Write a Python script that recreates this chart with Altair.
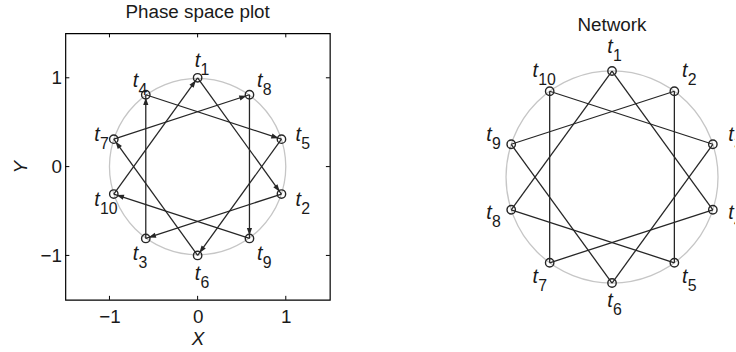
import math
import altair as alt
import pandas as pd

# ---- data -------------------------------------------------------------
# state index shown as the subscript of each label t_k
state_ids = ["1", "2", "3", "4", "5", "6", "7", "8", "9", "10"]

# positions of the states t1..t10 in the phase plane (X, Y)
phase_x = [0.0, 0.951, -0.588, -0.588, 0.951, 0.0, -0.951, 0.588, 0.588, -0.951]
phase_y = [1.0, -0.309, -0.809, 0.809, 0.309, -1.0, 0.309, 0.809, -0.809, -0.309]

# positions of the same states laid out as a ring network
net_x = [0.0, 0.588, 0.951, 0.951, 0.588, 0.0, -0.588, -0.951, -0.951, -0.588]
net_y = [1.0, 0.809, 0.309, -0.309, -0.809, -1.0, -0.809, -0.309, 0.309, 0.809]

# links of the network (state numbers)
net_edges = [(1, 4), (4, 7), (7, 10), (10, 3), (3, 6), (6, 9), (9, 2), (2, 5), (5, 8), (8, 1)]

# trajectory order in the phase plot (closes back on t1)
trajectory = [1, 2, 3, 4, 5, 6, 7, 8, 9, 10, 1]

axis_ticks = [-1, 0, 1]

# ---- layout constants ---------------------------------------------------
FONT = "Liberation Sans"
INK = "#1a1a1a"
LINE = "#262626"
W1, H1 = 267, 269            # phase plot area
LIM = 1.5
NET_UNIT = 107               # pixels per unit in the network panel
NET_X = [-1.4, 1.16]
NET_Y = [-1.355, 1.355]
W2 = round((NET_X[1] - NET_X[0]) * NET_UNIT)
H2 = round((NET_Y[1] - NET_Y[0]) * NET_UNIT)
LABEL_R = 1.2                # labels sit just outside the ring
ARROW = "M0,-1L0.7,1L-0.7,1Z"
FIG_SPACE = "\u2007"


def nodes_frame(xs, ys):
    return pd.DataFrame({"x": xs, "y": ys, "k": state_ids,
                         "lx": [LABEL_R * v for v in xs],
                         "ly": [LABEL_R * v for v in ys]})


# ---- phase space panel ------------------------------------------------
sx = alt.Scale(domain=[-LIM, LIM], nice=False, zero=False)
sy = alt.Scale(domain=[-LIM, LIM], nice=False, zero=False)
common_axis = dict(values=axis_ticks, grid=False, domain=False, ticks=False, tickSize=0,
                   labelFontSize=19, titleFontSize=19, titleFontStyle="italic",
                   titleFontWeight="normal", labelColor=INK, titleColor=INK,
                   labelFont=FONT, titleFont=FONT)
# negative tick labels are centred on their digits, the minus hanging to the left
ax_x = alt.Axis(title="X", labelPadding=8, titlePadding=3,
                labelExpr=f"datum.value < 0 ? datum.label + '{FIG_SPACE}' : datum.label",
                **common_axis)
ax_y = alt.Axis(title="Y", labelPadding=4, titlePadding=10, **common_axis)


def X(field="x"):
    return alt.X(f"{field}:Q", scale=sx, axis=ax_x)


def Y(field="y"):
    return alt.Y(f"{field}:Q", scale=sy, axis=ax_y)


phase_nodes = nodes_frame(phase_x, phase_y)

seg = []
for a, b in zip(trajectory[:-1], trajectory[1:]):
    x0, y0 = phase_x[a - 1], phase_y[a - 1]
    x1, y1 = phase_x[b - 1], phase_y[b - 1]
    dx, dy = x1 - x0, y1 - y0
    d = math.hypot(dx, dy)
    back = 0.075
    seg.append({"x": x0, "y": y0, "x2": x1, "y2": y1,
                "ax": x1 - dx / d * back, "ay": y1 - dy / d * back,
                "ang": math.degrees(math.atan2(dx, dy)) % 360})
phase_seg = pd.DataFrame(seg)

# inward tick marks on all four sides of the box
tk = 0.045
tick_rows = []
for v in axis_ticks:
    tick_rows += [
        {"x": v, "y": -LIM, "x2": v, "y2": -LIM + tk},
        {"x": v, "y": LIM, "x2": v, "y2": LIM - tk},
        {"x": -LIM, "y": v, "x2": -LIM + tk, "y2": v},
        {"x": LIM, "y": v, "x2": LIM - tk, "y2": v},
    ]
ticks_df = pd.DataFrame(tick_rows)

r1 = W1 / (2 * LIM)
ring1 = alt.Chart(pd.DataFrame({"x": [0.0], "y": [0.0]})).mark_point(
    shape="circle", size=(2 * r1) ** 2, filled=False, stroke="#c6c6c6",
    strokeWidth=1.3, opacity=1
).encode(x=X(), y=Y())

tick_marks = alt.Chart(ticks_df).mark_rule(color="#000", strokeWidth=1).encode(
    x=X(), y=Y(), x2="x2:Q", y2="y2:Q")

edges1 = alt.Chart(phase_seg).mark_rule(color=LINE, strokeWidth=1.3).encode(
    x=X(), y=Y(), x2="x2:Q", y2="y2:Q")

heads = alt.Chart(phase_seg).mark_point(
    shape=ARROW, size=56, filled=True, color=LINE, opacity=1
).encode(x=X("ax"), y=Y("ay"), angle=alt.Angle("ang:Q", scale=None))

dots1 = alt.Chart(phase_nodes).mark_point(
    shape="circle", size=72, filled=False, stroke=LINE, strokeWidth=1.4, opacity=1
).encode(x=X(), y=Y())

t1 = alt.Chart(phase_nodes).mark_text(
    text="t", font=FONT, fontSize=20, fontStyle="italic", color=INK,
    align="center", baseline="middle", dx=0, dy=1
).encode(x=X("lx"), y=Y("ly"))

sub1 = alt.Chart(phase_nodes).mark_text(
    font=FONT, fontSize=16, color=INK, align="left", baseline="middle", dx=3, dy=10
).encode(x=X("lx"), y=Y("ly"), text="k:N")

phase = alt.layer(ring1, tick_marks, edges1, heads, dots1, t1, sub1).properties(
    width=W1, height=H1,
    title=alt.TitleParams("Phase space plot", fontSize=19, fontWeight="normal",
                          font=FONT, color=INK, baseline="alphabetic", offset=-4.2),
    view=alt.ViewBackground(stroke="#000", strokeWidth=1.2),
)

# ---- network panel ----------------------------------------------------
nx = alt.Scale(domain=NET_X, nice=False, zero=False)
ny = alt.Scale(domain=NET_Y, nice=False, zero=False)


def NX(field="x"):
    return alt.X(f"{field}:Q", scale=nx, axis=None)


def NY(field="y"):
    return alt.Y(f"{field}:Q", scale=ny, axis=None)


net_nodes = nodes_frame(net_x, net_y)
net_seg = pd.DataFrame([
    {"x": net_x[a - 1], "y": net_y[a - 1], "x2": net_x[b - 1], "y2": net_y[b - 1]}
    for a, b in net_edges
])

ring2 = alt.Chart(pd.DataFrame({"x": [0.0], "y": [0.0]})).mark_point(
    shape="circle", size=(2 * NET_UNIT) ** 2, filled=False, stroke="#c6c6c6",
    strokeWidth=1.3, opacity=1
).encode(x=NX(), y=NY())

edges2 = alt.Chart(net_seg).mark_rule(color=LINE, strokeWidth=1.3).encode(
    x=NX(), y=NY(), x2="x2:Q", y2="y2:Q")

dots2 = alt.Chart(net_nodes).mark_point(
    shape="circle", size=72, filled=False, stroke=LINE, strokeWidth=1.4, opacity=1
).encode(x=NX(), y=NY())

t2 = alt.Chart(net_nodes).mark_text(
    text="t", font=FONT, fontSize=20, fontStyle="italic", color=INK,
    align="center", baseline="middle", dx=-2, dy=-3, clip=True
).encode(x=NX("lx"), y=NY("ly"))

sub2 = alt.Chart(net_nodes).mark_text(
    font=FONT, fontSize=16, color=INK, align="left", baseline="middle", dx=1, dy=6,
    clip=True
).encode(x=NX("lx"), y=NY("ly"), text="k:N")

network = alt.layer(ring2, edges2, dots2, t2, sub2).properties(
    width=W2, height=H2,
    title=alt.TitleParams("Network", fontSize=19, fontWeight="normal", font=FONT,
                          color=INK, baseline="alphabetic", offset=-16.2,
                          dx=-NET_X[0] * NET_UNIT - W2 / 2),
)

chart = alt.hconcat(phase, network, spacing=132).properties(
    padding={"left": 10, "top": 1, "right": 0, "bottom": 5}
).configure_view(stroke="transparent")

chart.save("out.html", embed_options={"renderer": "svg", "actions": False})
